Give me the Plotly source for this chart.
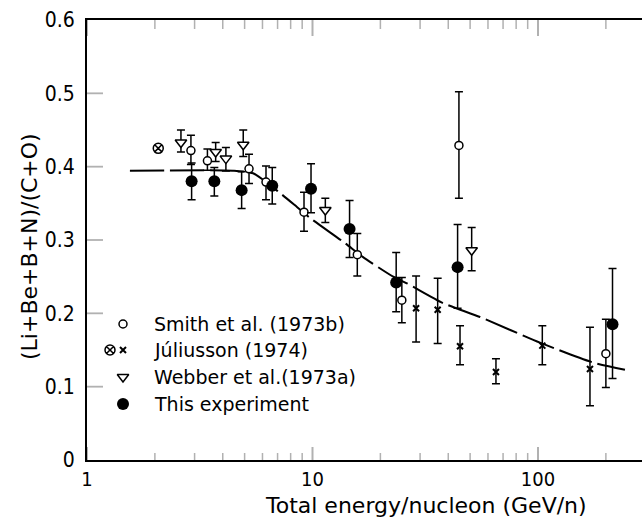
import plotly.graph_objects as go

# ---------------- data ----------------
smith_x = [2.89, 3.42, 5.23, 6.22, 9.17, 15.8, 24.9, 44.6, 200]
smith_y = [0.422, 0.408, 0.397, 0.379, 0.338, 0.280, 0.218, 0.429, 0.145]
smith_ep = [0.021, 0.016, 0.020, 0.022, 0.027, 0.029, 0.031, 0.073, 0.047]
smith_em = [0.019, 0.013, 0.020, 0.024, 0.026, 0.029, 0.031, 0.072, 0.046]

jul_x = [28.8, 35.9, 45.1, 65.1, 104.5, 170]
jul_y = [0.207, 0.205, 0.155, 0.120, 0.156, 0.124]
jul_ep = [0.044, 0.043, 0.028, 0.018, 0.027, 0.057]
jul_em = [0.046, 0.046, 0.025, 0.016, 0.026, 0.050]

jul_otimes_x = [2.07]
jul_otimes_y = [0.425]

webber_x = [2.61, 3.72, 4.13, 4.93, 11.4, 50.8]
webber_y = [0.433, 0.420, 0.411, 0.430, 0.341, 0.286]
webber_ep = [0.017, 0.013, 0.015, 0.020, 0.016, 0.031]
webber_em = [0.013, 0.013, 0.017, 0.016, 0.017, 0.028]

this_x = [2.91, 3.67, 4.85, 6.63, 9.85, 14.6, 23.5, 44.0, 214]
this_y = [0.380, 0.380, 0.368, 0.374, 0.370, 0.315, 0.242, 0.263, 0.185]
this_ep = [0.025, 0.019, 0.025, 0.025, 0.034, 0.039, 0.041, 0.058, 0.076]
this_em = [0.025, 0.020, 0.025, 0.025, 0.033, 0.039, 0.040, 0.056, 0.074]

curve_x = [1.55, 4.44, 5.45, 7.18, 8.53, 9.75, 13.9, 16.7, 22.8, 26.2, 37.9, 55.3, 102, 175, 243]
curve_y = [0.3945, 0.3945, 0.391, 0.364, 0.345, 0.330, 0.296, 0.277, 0.250, 0.241, 0.214,
           0.195, 0.160, 0.133, 0.123]

legend_labels = ["Smith et al. (1973b)", "Júliusson (1974)", "Webber et al.(1973a)", "This experiment"]

x_tickvals = [1, 10, 100]
x_ticktext = ["1", "10", "100"]
x_minor = [2, 3, 4, 5, 6, 7, 8, 9, 20, 30, 40, 50, 60, 70, 80, 90, 200]
y_tickvals = [0, 0.1, 0.2, 0.3, 0.4, 0.5, 0.6]
y_ticktext = ["0", "0.1", "0.2", "0.3", "0.4", "0.5", "0.6"]

# ---------------- layout constants ----------------
W, H = 642, 523
L, R, T, B = 87, 0, 20, 63
PW, PH = W - L - R, H - T - B
DECADE_PX = 225.5
XMAX_LOG = PW / DECADE_PX
X_LEFT, X_RIGHT = 1.0, 10 ** XMAX_LOG
Y_BOTTOM, Y_TOP = 0.0, 0.6
Y_PER_PX = 0.6 / PH

TICKFONT = "Liberation Sans Narrow, DejaVu Sans Condensed, Arial Narrow, sans-serif"
TEXTFONT = "DejaVu Sans, Verdana, sans-serif"
BLACK = "#000000"


def px_to_x(px):
    return 10 ** ((px - L) / DECADE_PX)


def px_to_y(py):
    return (H - B - py) * Y_PER_PX


def err(ep, em):
    return dict(type="data", symmetric=False, array=ep, arrayminus=em,
                color=BLACK, thickness=1.5, width=4)


fig = go.Figure()

fig.add_trace(go.Scatter(x=curve_x, y=curve_y, mode="lines",
                         line=dict(color=BLACK, width=2, dash="34px,6px", shape="spline", smoothing=0.6),
                         hoverinfo="skip"))

SM = dict(symbol="circle", size=8, color="white", line=dict(color=BLACK, width=1.5))
WB = dict(symbol="triangle-down", size=10, color="white", line=dict(color=BLACK, width=1.5))
JX = dict(symbol="x-thin-open", size=6, color=BLACK, line=dict(color=BLACK, width=2))
JO = dict(symbol="circle-x-open", size=10, color=BLACK, line=dict(color=BLACK, width=1.5))
TE = dict(symbol="circle", size=12, color=BLACK, line=dict(color=BLACK, width=0))

fig.add_trace(go.Scatter(x=smith_x, y=smith_y, mode="markers", error_y=err(smith_ep, smith_em), marker=SM))
fig.add_trace(go.Scatter(x=webber_x, y=webber_y, mode="markers", error_y=err(webber_ep, webber_em), marker=WB))
fig.add_trace(go.Scatter(x=jul_x, y=jul_y, mode="markers", error_y=err(jul_ep, jul_em), marker=JX))
fig.add_trace(go.Scatter(x=jul_otimes_x, y=jul_otimes_y, mode="markers", marker=JO))
fig.add_trace(go.Scatter(x=this_x, y=this_y, mode="markers", error_y=err(this_ep, this_em), marker=TE))

# ---------------- hand-made legend ----------------
key_px = 123
rows_py = [324, 350, 377, 404]
text_px = 152
key_specs = [(key_px, rows_py[0], SM), (key_px - 13, rows_py[1], JO), (key_px, rows_py[1], JX),
             (key_px, rows_py[2], WB), (key_px, rows_py[3], TE)]
for kx, ky, mk in key_specs:
    fig.add_trace(go.Scatter(x=[px_to_x(kx)], y=[px_to_y(ky)], mode="markers", marker=mk,
                             hoverinfo="skip"))

annotations = []
for lab, ry in zip(legend_labels, rows_py):
    annotations.append(dict(x=(text_px - L) / PW, y=(H - B - ry) / PH, xref="paper", yref="paper",
                            text=lab, showarrow=False, xanchor="left", yanchor="middle",
                            font=dict(family=TEXTFONT, size=19, color=BLACK)))

annotations.append(dict(x=(426 - L) / PW, y=(H - B - 505) / PH, xref="paper", yref="paper",
                        text="Total energy/nucleon (GeV/n)", showarrow=False,
                        xanchor="center", yanchor="middle",
                        font=dict(family=TEXTFONT, size=22, color=BLACK)))
annotations.append(dict(x=(30 - L) / PW, y=(H - B - 247) / PH, xref="paper", yref="paper",
                        text="(Li+Be+B+N)/(C+O)", showarrow=False, textangle=-90,
                        xanchor="center", yanchor="middle",
                        font=dict(family=TEXTFONT, size=22, color=BLACK)))

# ---------------- inward tick marks (positions via axis scales, lengths in px) ----------------
shapes = []


def xtick(v, at_top, length, width):
    shapes.append(dict(type="line", xref="x", yref="y", x0=v, x1=v,
                       ysizemode="pixel", yanchor=Y_TOP if at_top else Y_BOTTOM,
                       y0=-length if at_top else 0, y1=0 if at_top else length,
                       line=dict(color=BLACK, width=width), layer="above"))


def ytick(v, at_right, length, width):
    shapes.append(dict(type="line", yref="y", xref="x", y0=v, y1=v,
                       xsizemode="pixel", xanchor=X_RIGHT if at_right else X_LEFT,
                       x0=-length if at_right else 0, x1=0 if at_right else length,
                       line=dict(color=BLACK, width=width), layer="above"))


for v in x_tickvals:
    xtick(v, False, 13, 2)
    xtick(v, True, 16, 2)
for v in x_minor:
    xtick(v, False, 7, 1.5)
    xtick(v, True, 9, 1.5)
for v in y_tickvals[1:-1]:
    ytick(v, False, 16, 1.8)
    ytick(v, True, 10, 1.8)

base = dict(showgrid=False, zeroline=False, linecolor=BLACK, tickcolor=BLACK, fixedrange=True)

fig.update_layout(
    template="simple_white",
    width=W, height=H,
    margin=dict(l=L, r=R, t=T, b=B, pad=0),
    paper_bgcolor="white", plot_bgcolor="white",
    showlegend=False,
    annotations=annotations,
    shapes=shapes,
    xaxis=dict(type="log", range=[0, XMAX_LOG], ticks="", tickmode="array",
               tickvals=x_tickvals, ticktext=x_ticktext,
               showline=True, linewidth=2, mirror=True,
               tickfont=dict(family=TICKFONT, size=20, color=BLACK), **base),
    yaxis=dict(range=[Y_BOTTOM, Y_TOP], ticks="", tickmode="array", tickvals=y_tickvals,
               ticktext=y_ticktext, showline=True, linewidth=2, mirror=False, ticklabelstandoff=6,
               tickfont=dict(family=TICKFONT, size=21, color=BLACK), **base),
)

fig.write_html("out.html", config={"displayModeBar": False},
               post_script="document.body.style.margin='0px';document.documentElement.style.overflow='hidden';")
